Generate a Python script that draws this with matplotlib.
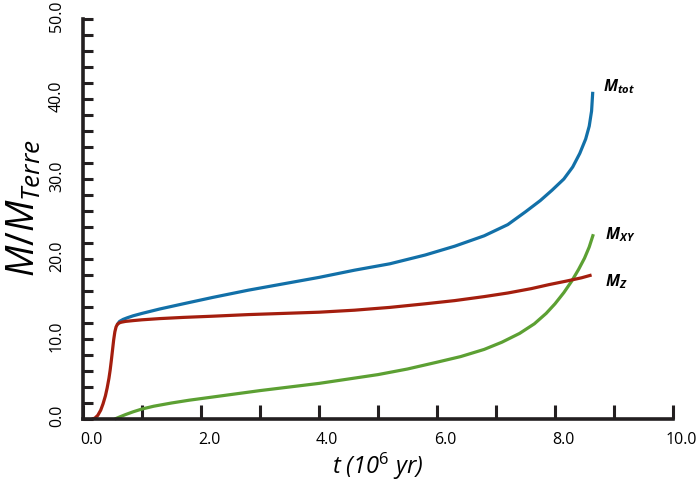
import matplotlib as mpl
import matplotlib.pyplot as plt
from matplotlib.ticker import MultipleLocator, FormatStrFormatter
from matplotlib.transforms import ScaledTranslation

# time (10^6 yr) and masses (Earth masses)
t_tot = [0.58, 0.62, 0.68, 0.75, 0.85, 1.0, 1.3, 1.7, 2.2, 2.8, 3.4, 4.0, 4.6, 5.2,
         5.8, 6.3, 6.8, 7.2, 7.5, 7.75, 7.95, 8.15, 8.3, 8.42, 8.52, 8.58, 8.62, 8.64]
m_tot = [11.8, 12.2, 12.45, 12.65, 12.9, 13.2, 13.75, 14.4, 15.2, 16.1, 16.9, 17.7,
         18.6, 19.4, 20.5, 21.6, 22.9, 24.3, 25.9, 27.3, 28.6, 30.0, 31.5, 33.2,
         35.0, 36.6, 38.5, 40.9]

t_z = [0.15, 0.20, 0.25, 0.30, 0.34, 0.38, 0.41, 0.44, 0.46, 0.48, 0.50, 0.52,
       0.54, 0.56, 0.58, 0.61, 0.65, 0.72, 0.85, 1.0, 1.3, 1.7, 2.2, 2.8, 3.4,
       4.0, 4.6, 5.2, 5.8, 6.3, 6.8, 7.2, 7.6, 7.9, 8.2, 8.45, 8.62]
m_z = [0.0, 0.1, 0.45, 1.1, 1.9, 2.9, 3.9, 5.1, 6.1, 7.3, 8.6, 9.9,
       10.9, 11.5, 11.8, 12.0, 12.1, 12.2, 12.3, 12.4, 12.55, 12.7, 12.85, 13.05, 13.2,
       13.35, 13.6, 13.95, 14.4, 14.8, 15.3, 15.75, 16.3, 16.8, 17.25, 17.65, 18.0]

t_xy = [0.54, 0.62, 0.72, 0.85, 1.0, 1.2, 1.5, 1.8, 2.2, 2.6, 3.0, 3.5, 4.0, 4.5,
        5.0, 5.5, 6.0, 6.4, 6.8, 7.1, 7.4, 7.65, 7.85, 8.0, 8.15, 8.28, 8.4, 8.5,
        8.58, 8.65]
m_xy = [0.0, 0.25, 0.55, 0.9, 1.25, 1.6, 2.0, 2.35, 2.75, 3.15, 3.55, 4.0, 4.45, 5.0,
        5.55, 6.25, 7.1, 7.8, 8.7, 9.6, 10.7, 11.9, 13.2, 14.4, 15.8, 17.2, 18.7, 20.1,
        21.5, 23.1]

c_tot = '#1270a8'
c_z = '#a41e0e'
c_xy = '#5ca033'

mpl.rcParams.update({
    'font.family': ['Open Sans', 'DejaVu Sans'],
    'mathtext.fontset': 'custom',
    'mathtext.rm': 'Open Sans',
    'mathtext.it': 'Open Sans:italic',
    'mathtext.bf': 'Open Sans:italic:bold',
})

fig = plt.figure(figsize=(7, 4.81), dpi=100)
ax = fig.add_axes([83 / 700, 61 / 481, 590 / 700, 400 / 481])

lw = 2.3
for tt, mm, cc in [(t_xy, m_xy, c_xy), (t_tot, m_tot, c_tot), (t_z, m_z, c_z)]:
    ax.plot(tt, mm, color=cc, lw=lw, clip_on=False,
            solid_capstyle='butt', solid_joinstyle='round')

ax.set_xlim(0, 10)
ax.set_ylim(0, 50)

for s in ['top', 'right']:
    ax.spines[s].set_visible(False)
for s in ['left', 'bottom']:
    ax.spines[s].set_linewidth(2.6)
    ax.spines[s].set_color('#231f20')
    ax.spines[s].set_capstyle('projecting')

ax.xaxis.set_major_locator(MultipleLocator(2))
ax.xaxis.set_minor_locator(MultipleLocator(1))
ax.yaxis.set_major_locator(MultipleLocator(10))
ax.yaxis.set_minor_locator(MultipleLocator(2))
ax.xaxis.set_major_formatter(FormatStrFormatter('%.1f'))
ax.yaxis.set_major_formatter(FormatStrFormatter('%.1f'))

ax.tick_params(axis='x', which='both', direction='in', length=10, width=2.2,
               color='#231f20', labelsize=11.5, pad=9)
ax.tick_params(axis='y', which='both', direction='in', length=7, width=2.2,
               color='#231f20', labelsize=11.5, pad=13)
for lab in ax.get_yticklabels():
    lab.set_rotation(90)
    lab.set_va('center')

shift_x = ScaledTranslation(8 / 100, 0, fig.dpi_scale_trans)
for lab in ax.get_xticklabels():
    lab.set_transform(lab.get_transform() + shift_x)
shift_y = ScaledTranslation(0, 4 / 100, fig.dpi_scale_trans)
for lab in ax.get_yticklabels():
    lab.set_transform(lab.get_transform() + shift_y)

fig.text(378 / 700, 1 - 466 / 481, 't (10$^{\\mathit{6}}$ yr)', style='italic',
         fontsize=17, ha='center', va='center')
fig.text(25 / 700, 1 - 208 / 481, r'$\mathit{M/M_{Terre}}$',
         fontsize=27, ha='center', va='center', rotation=90)

ax.text(8.81, 41.1, r'$\mathbf{M_{tot}}$', fontsize=11.5, va='baseline')
ax.text(8.85, 22.6, r'$\mathbf{M_{XY}}$', fontsize=11.5, va='baseline')
ax.text(8.85, 16.7, r'$\mathbf{M_{Z}}$', fontsize=11.5, va='baseline')

fig.savefig('out.png', dpi=100)
